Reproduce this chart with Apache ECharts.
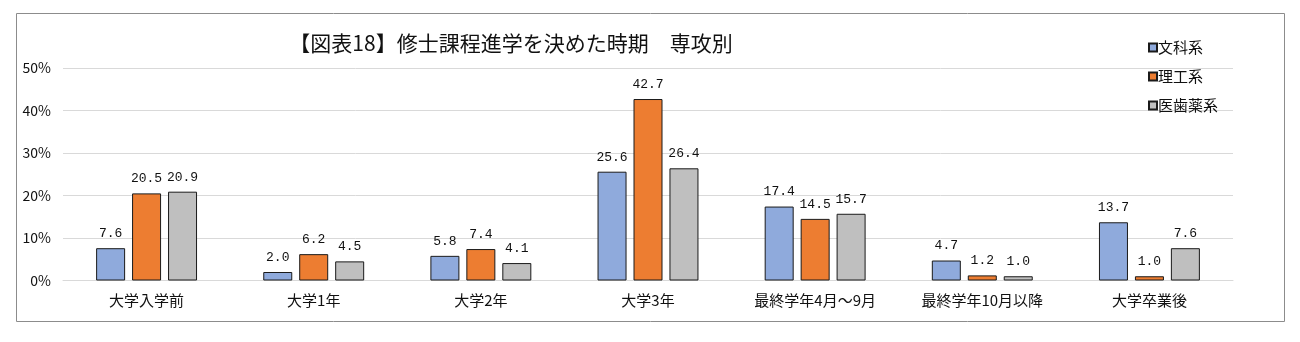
<!DOCTYPE html>
<html>
<head>
<meta charset="utf-8">
<script src="https://cdn.jsdelivr.net/npm/echarts@6/dist/echarts.min.js"></script>
<style>
  html, body { margin: 0; padding: 0; background: #fff; }
  #chart { width: 1300px; height: 342px; }
</style>
</head>
<body>
<div id="chart"></div>
<script>
// 修士課程進学を決めた時期（専攻別、%）
const titleText = '【図表18】修士課程進学を決めた時期　専攻別';
const categories = ['大学入学前', '大学1年', '大学2年', '大学3年', '最終学年4月～9月', '最終学年10月以降', '大学卒業後'];
const seriesNames = ['文科系', '理工系', '医歯薬系'];
const bunka = [7.6, 2.0, 5.8, 25.6, 17.4, 4.7, 13.7];
const rikou = [20.5, 6.2, 7.4, 42.7, 14.5, 1.2, 1.0];
const ishiyaku = [20.9, 4.5, 4.1, 26.4, 15.7, 1.0, 7.6];
const yTicks = [0, 10, 20, 30, 40, 50];

const colors = ['#8faadc', '#ed7d31', '#bfbfbf'];
const jpFont = '"Noto Sans CJK JP", sans-serif';
const numFont = '"Liberation Mono", "DejaVu Sans Mono", monospace';

const chart = echarts.init(document.getElementById('chart'), null, { renderer: 'canvas' });

function barSeries(name, data, color) {
  return {
    name: name,
    type: 'bar',
    data: data,
    barWidth: 29,
    barGap: '24%',
    itemStyle: { color: color, borderColor: '#1a1a1a', borderWidth: 1 },
    label: {
      show: true,
      position: 'top',
      distance: 8,
      formatter: p => p.value.toFixed(1),
      fontFamily: numFont,
      fontSize: 13,
      color: '#111'
    }
  };
}

chart.setOption({
  animation: false,
  backgroundColor: '#fff',
  title: {
    text: titleText,
    left: 506,
    textAlign: 'center',
    top: 28,
    textStyle: { fontFamily: jpFont, fontSize: 21, fontWeight: 'normal', color: '#111' }
  },
  legend: {
    data: seriesNames,
    orient: 'vertical',
    left: 1143,
    top: 35,
    icon: 'rect',
    itemWidth: 8,
    itemHeight: 8,
    itemGap: 14,
    textStyle: { fontFamily: jpFont, fontSize: 15, color: '#111', padding: [0, 0, 0, -4] }
  },
  grid: { left: 63, right: 67, top: 68, bottom: 61.5 },
  xAxis: {
    type: 'category',
    data: categories,
    axisTick: { show: false },
    axisLine: { show: true, lineStyle: { color: '#d9d9d9', width: 1 } },
    axisLabel: { fontFamily: jpFont, fontSize: 15, color: '#111', margin: 12 }
  },
  yAxis: {
    type: 'value',
    min: yTicks[0],
    max: yTicks[yTicks.length - 1],
    interval: 10,
    axisLine: { show: false },
    axisTick: { show: false },
    splitLine: { lineStyle: { color: '#d9d9d9', width: 1 } },
    axisLabel: { formatter: '{value}%', fontFamily: jpFont, fontSize: 14, color: '#111', margin: 12 }
  },
  graphic: [{
    type: 'rect',
    shape: { x: 16.5, y: 13.5, width: 1268, height: 308 },
    style: { fill: 'none', stroke: '#8c8c8c', lineWidth: 1 },
    silent: true,
    z: -1
  }],
  series: [
    barSeries(seriesNames[0], bunka, colors[0]),
    barSeries(seriesNames[1], rikou, colors[1]),
    barSeries(seriesNames[2], ishiyaku, colors[2])
  ]
});
</script>
</body>
</html>
